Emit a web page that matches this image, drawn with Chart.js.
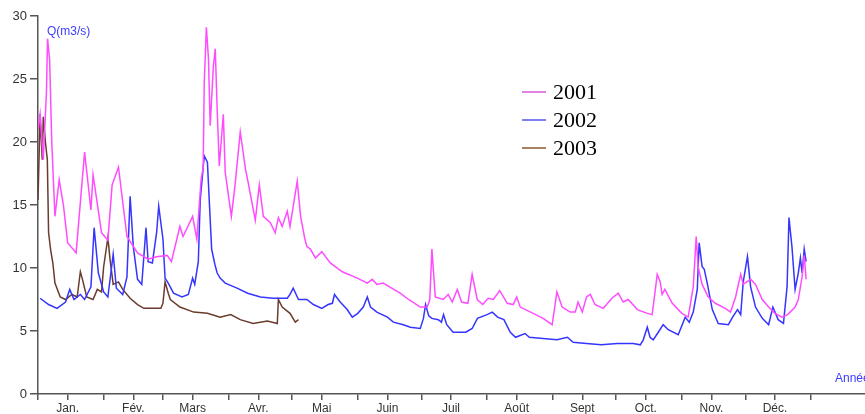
<!DOCTYPE html>
<html>
<head>
<meta charset="utf-8">
<script src="https://cdn.jsdelivr.net/npm/chart.js@4"></script>
<style>
  body { margin: 0; background: #fff; }
  canvas { display: block; }
</style>
</head>
<body>
<canvas id="debitChart" width="865" height="414"></canvas>
<script>
// day of year (0 = 1 Jan) and flow Q in m3/s
const days2001 = [0, 1, 2.5, 4, 4.5, 5.5, 6.5, 8, 10, 12, 14, 18, 22, 25, 26, 30, 33, 35, 38, 42, 47, 52, 56, 61, 63, 67, 68.5, 73, 75, 77, 78, 78.5, 79.5, 80.5, 81.3, 82.8, 83.7, 84.6, 85.6, 87.5, 88.4, 91.3, 93, 95.5, 98, 99, 102.6, 104.5, 106.4, 109.7, 112, 113.5, 115.3, 117.7, 119, 120.5, 122.4, 124, 126, 127, 128.6, 131, 134, 138, 143.7, 150.8, 155.5, 157.8, 160, 163, 167, 171, 175, 180.5, 183.8, 185, 186, 187.6, 191.3, 193.7, 195.6, 198, 200, 203, 205, 207.4, 210, 212.6, 215, 218, 221.6, 224.4, 226, 227.7, 233.8, 238.5, 242.8, 245, 247.5, 251.3, 253.7, 255, 257, 259, 260.8, 263, 266.9, 271, 274, 276.3, 278.7, 283, 287.7, 290, 292.4, 293.8, 294.7, 296, 299.5, 304, 307, 309.4, 310.8, 311.7, 313.6, 316.5, 319.8, 324.5, 327, 329.4, 331.8, 333, 336.5, 338.8, 342, 345, 348, 351.3, 354, 357.5, 359, 360.8, 361.8, 362.7];
const q2001 = [21, 22.2, 18.6, 24, 28.2, 26.5, 20, 14.1, 17, 15, 12, 11.2, 19.2, 14.6, 17.4, 12.8, 12.2, 16.6, 18, 12.5, 11.2, 10.7, 10.9, 11, 10.5, 13.3, 12.5, 14.1, 12.3, 17, 18, 24.7, 29.1, 26.6, 21.3, 26, 27.4, 22.6, 18.1, 22.2, 17.6, 14.1, 16.5, 20.8, 17.8, 17, 13.8, 16.6, 14.1, 13.6, 12.8, 14, 13.3, 14.5, 13.3, 14.9, 16.9, 14.1, 12.3, 11.7, 11.5, 10.8, 11.3, 10.4, 9.7, 9.2, 8.8, 9.1, 8.7, 8.8, 8.4, 8, 7.5, 6.9, 6.9, 7.5, 11.5, 7.7, 7.5, 7.9, 7.3, 8.3, 7.3, 7.2, 9.5, 7.5, 7.1, 7.6, 7.5, 8.2, 7.2, 7.1, 7.7, 6.9, 6.4, 6, 5.5, 8.1, 6.9, 6.5, 6.5, 7.3, 6.5, 7.7, 7.9, 7.1, 6.8, 7.6, 8, 7.3, 7.5, 6.7, 6.4, 6.3, 9.5, 8.9, 7.9, 8.3, 7.2, 6.4, 6.1, 8.5, 12.5, 10.1, 8.7, 7.7, 7.2, 6.8, 6.5, 7.7, 9.5, 8.7, 9.1, 8.7, 7.5, 6.9, 6.4, 6.1, 6.3, 6.9, 7.5, 9.3, 11, 9.1];

const days2002 = [1, 5, 9, 13, 15, 17, 20, 22, 25, 26.5, 28.5, 31, 33, 35.5, 37, 40, 42, 43.5, 45, 47, 49, 51, 52, 54, 56, 57, 59, 60, 61.5, 64, 68, 71, 73, 74, 75.7, 76.6, 78.5, 80, 81, 82, 83.5, 84.6, 86, 88.4, 94, 99, 105, 111, 117.7, 119, 120.5, 123, 127, 130, 134, 137, 139, 140, 142.7, 146, 148.4, 151, 153.6, 155.5, 157, 160, 165, 167.8, 172.5, 175.8, 180.5, 182, 183, 184.5, 186, 189, 190.5, 191.5, 193, 196, 202, 205, 207.5, 212, 214.5, 217, 220, 223, 225.5, 230, 232, 238.5, 245, 250, 252.7, 259, 266, 273.5, 281, 284.4, 285.8, 287.7, 289, 290.5, 292.9, 295.2, 297.6, 302.3, 305.6, 307.5, 309.4, 311.3, 312.2, 313.6, 314.6, 316, 318.4, 321.2, 326, 328, 330.3, 331.8, 333, 335, 336.5, 338.8, 342, 345, 347, 349.5, 352, 353.7, 354.6, 356, 357.5, 359, 360, 360.8, 361.8, 362.7];
const q2002 = [7.6, 7.1, 6.8, 7.3, 8.3, 7.5, 7.9, 7.5, 8.5, 13.2, 9.6, 8.1, 7.7, 11.1, 8.4, 7.9, 9.3, 15.7, 11.7, 9.1, 8.7, 13.2, 10.5, 10.4, 12.8, 14.9, 12.3, 9.2, 8.8, 8, 7.7, 7.9, 9.2, 8.7, 10.5, 15.4, 18.9, 18.4, 14.9, 11.5, 10.3, 9.6, 9.2, 8.8, 8.4, 8, 7.7, 7.6, 7.6, 7.9, 8.4, 7.5, 7.5, 7.1, 6.8, 7.1, 7.2, 7.9, 7.3, 6.7, 6.1, 6.4, 6.9, 7.7, 6.9, 6.5, 6.1, 5.7, 5.5, 5.3, 5.2, 6, 7.1, 6.2, 6, 5.9, 5.7, 6.3, 5.5, 4.9, 4.9, 5.2, 6, 6.3, 6.5, 6.1, 5.9, 4.9, 4.5, 4.8, 4.5, 4.4, 4.3, 4.5, 4.1, 4, 3.9, 4, 4, 3.9, 4.3, 5.3, 4.5, 4.3, 4.9, 5.5, 5.1, 4.7, 6.1, 5.7, 6.5, 8.3, 12, 10.1, 9.9, 8.8, 6.7, 5.6, 5.5, 6.1, 6.7, 6.3, 8.9, 10.9, 8.5, 6.9, 6, 5.5, 6.9, 5.9, 5.6, 8.5, 14, 11.7, 8.3, 9.6, 10.8, 9.6, 11.5, 10.5];

const days2003 = [0, 1, 2, 2.5, 3.5, 4.4, 5, 6, 7, 8, 10.5, 13, 16, 18.5, 20, 21, 23, 26, 28, 30, 31, 33, 34, 35.5, 38, 40, 43.5, 47, 50, 54.5, 58, 59, 60, 61.5, 62.5, 67, 73.5, 80, 86, 91, 95.5, 101.6, 108.3, 113, 113.5, 115.3, 119, 121.5, 123];
const q2003 = [15.4, 22.2, 18.6, 22, 20, 18.6, 12.8, 11.4, 10.4, 8.8, 7.7, 7.5, 7.9, 7.7, 9.7, 9.1, 7.7, 7.5, 8.3, 8.1, 10.1, 12.4, 10.7, 8.7, 8.9, 8.3, 7.6, 7.1, 6.8, 6.8, 6.8, 7.2, 8.9, 8, 7.5, 6.9, 6.5, 6.4, 6.1, 6.3, 5.9, 5.6, 5.8, 5.6, 7.5, 6.9, 6.4, 5.7, 5.9];

// x axis: 1st and 15th of each month, names under the 15th
const monthStarts = [0, 31, 59, 90, 120, 151, 181, 212, 243, 273, 304, 334, 365];
const monthNames = ['Jan.', 'Fév.', 'Mars', 'Avr.', 'Mai', 'Juin', 'Juil', 'Août', 'Sept', 'Oct.', 'Nov.', 'Déc.'];
const yearLabels = ['2001', '2002', '2003'];

const tickDays = [];
const tickText = {};
monthStarts.forEach((d, i) => {
  tickDays.push(d);
  if (i < monthNames.length) {
    tickDays.push(d + 14);
    tickText[d + 14] = monthNames[i];
  }
});

const toPoints = (days, q) => days.map((d, i) => ({ x: d, y: q[i] }));

const seriesColors = ['#ff4cff', '#3535ff', '#6b3b2e'];
const legendColors = ['#d85cd8', '#5555f0', '#8a5a30'];

const overlayText = {
  id: 'overlayText',
  afterDraw(chart) {
    const ctx = chart.ctx;
    ctx.save();
    ctx.fillStyle = '#3c3cff';
    ctx.font = '12px "Liberation Sans", Arial';
    ctx.textBaseline = 'middle';
    ctx.textAlign = 'left';
    ctx.fillText('Q(m3/s)', 47, 32);
    ctx.fillText('Année', 835, 379);

    // legend
    ctx.font = '22px "Liberation Serif", "Times New Roman"';
    yearLabels.forEach((lab, i) => {
      const y = 92 + i * 28;
      ctx.strokeStyle = legendColors[i];
      ctx.lineWidth = 1.5;
      ctx.beginPath();
      ctx.moveTo(522, y);
      ctx.lineTo(546, y);
      ctx.stroke();
      ctx.fillStyle = '#000';
      ctx.fillText(lab, 553, y + 1);
    });
    ctx.restore();
  }
};

const ctx = document.getElementById('debitChart').getContext('2d');
new Chart(ctx, {
  type: 'line',
  data: {
    datasets: [
      { label: yearLabels[0], data: toPoints(days2001, q2001), borderColor: seriesColors[0], borderWidth: 1.5, pointRadius: 0, fill: false, tension: 0 },
      { label: yearLabels[1], data: toPoints(days2002, q2002), borderColor: seriesColors[1], borderWidth: 1.5, pointRadius: 0, fill: false, tension: 0 },
      { label: yearLabels[2], data: toPoints(days2003, q2003), borderColor: seriesColors[2], borderWidth: 1.5, pointRadius: 0, fill: false, tension: 0 }
    ]
  },
  options: {
    responsive: false,
    animation: false,
    layout: { padding: { top: 16, left: 0, right: 0, bottom: 0 } },
    plugins: {
      legend: { display: false },
      tooltip: { enabled: false }
    },
    scales: {
      x: {
        type: 'linear',
        min: 0,
        max: 390.5,
        afterBuildTicks: (scale) => { scale.ticks = tickDays.map(v => ({ value: v })); },
        afterFit: (scale) => { scale.height = 20; },
        ticks: {
          autoSkip: false,
          maxRotation: 0,
          padding: 1,
          color: '#333',
          font: { family: '"Liberation Sans", Arial', size: 12 },
          callback: (value) => tickText[value] || ''
        },
        grid: { drawOnChartArea: false, drawTicks: true, tickLength: 6, color: '#555', lineWidth: 1.5 },
        border: { color: '#555', width: 1.5 }
      },
      y: {
        min: 0,
        max: 30,
        afterFit: (scale) => { scale.width = 38; },
        ticks: {
          stepSize: 5,
          padding: 3,
          color: '#333',
          font: { family: '"Liberation Sans", Arial', size: 13 }
        },
        grid: { drawOnChartArea: false, drawTicks: true, tickLength: 8, color: '#555', lineWidth: 1.5 },
        border: { color: '#555', width: 1.5 }
      }
    }
  },
  plugins: [overlayText]
});
</script>
</body>
</html>
